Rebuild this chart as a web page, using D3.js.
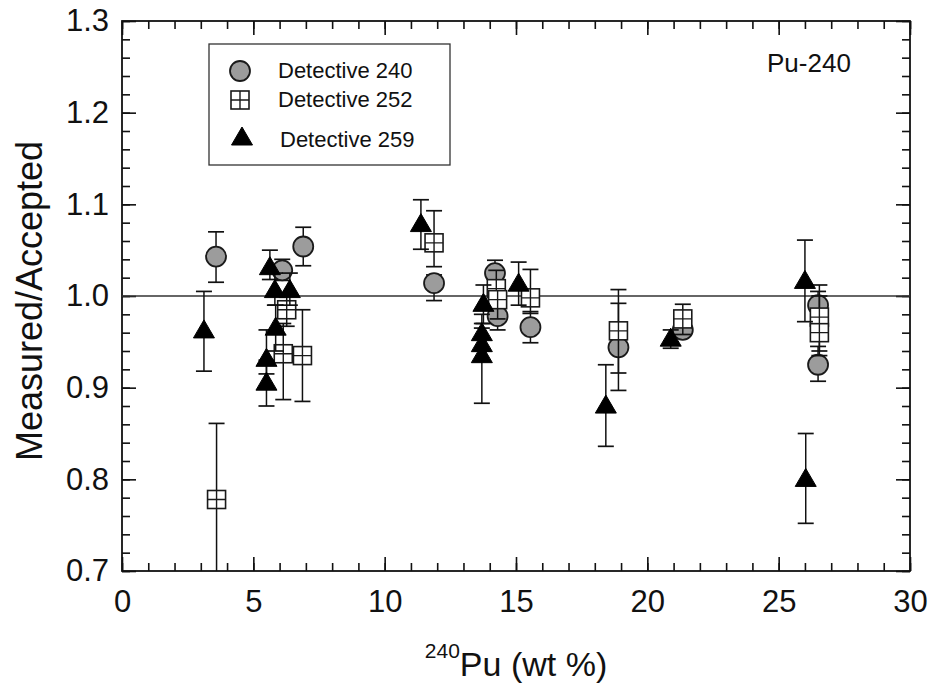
<!DOCTYPE html>
<html>
<head>
<meta charset="utf-8">
<script src="https://cdn.jsdelivr.net/npm/d3@7"></script>
<style>
  body { margin: 0; background: #fff; }
  svg text { font-family: "Liberation Sans", Arial, sans-serif; fill: #111; }
</style>
</head>
<body>
<div id="chart"></div>
<script>
// Detective 240 (grey circles)
const det240X  = [3.58, 6.10, 6.90, 11.88, 14.20, 14.30, 15.55, 18.90, 21.35, 26.50, 26.50];
const det240Y  = [1.043, 1.028, 1.054, 1.014, 1.025, 0.978, 0.966, 0.944, 0.963, 0.990, 0.925];
const det240Lo = [1.015, 1.017, 1.033, 0.995, 1.010, 0.963, 0.949, 0.916, 0.958, 0.975, 0.907];
const det240Hi = [1.070, 1.040, 1.075, 1.023, 1.039, 0.993, 0.983, 0.992, 0.968, 1.005, 0.945];

// Detective 252 (open squares)
const det252X  = [3.60, 6.27, 6.14, 6.87, 11.88, 14.25, 14.30, 15.55, 18.90, 21.35, 26.55, 26.55];
const det252Y  = [0.778, 0.985, 0.937, 0.935, 1.058, 1.008, 0.996, 0.998, 0.962, 0.975, 0.977, 0.960];
const det252Lo = [0.680, 0.967, 0.887, 0.885, 1.032, 0.990, 0.975, 0.981, 0.897, 0.958, 0.940, 0.935];
const det252Hi = [0.861, 1.003, 0.970, 0.985, 1.093, 1.028, 1.015, 1.029, 1.007, 0.991, 1.012, 1.000];

// Detective 259 (black triangles)
const det259X  = [3.12, 5.50, 5.50, 5.63, 5.82, 5.85, 6.39, 11.38, 13.76, 13.70, 13.70, 13.70, 15.10, 18.42, 20.89, 26.00, 26.03];
const det259Y  = [0.963, 0.932, 0.906, 1.032, 1.007, 0.966, 1.007, 1.079, 0.992, 0.960, 0.948, 0.936, 1.014, 0.881, 0.954, 1.017, 0.801];
const det259Lo = [0.918, 0.915, 0.880, 1.018, 0.990, 0.940, 0.990, 1.051, 0.970, 0.940, 0.930, 0.883, 0.990, 0.836, 0.943, 0.972, 0.752];
const det259Hi = [1.005, 0.963, 0.930, 1.050, 1.025, 0.990, 1.025, 1.105, 1.012, 0.980, 0.970, 0.965, 1.037, 0.925, 0.963, 1.061, 0.850];

const legendLabels = ["Detective 240", "Detective 252", "Detective 259"];
const xTicks = [0, 5, 10, 15, 20, 25, 30];
const yTicks = [0.7, 0.8, 0.9, 1.0, 1.1, 1.2, 1.3];

const width = 930, height = 688;
const margin = { left: 122, right: 20, top: 21, bottom: 117 };

const svg = d3.select('#chart')
  .append('svg')
    .attr('width', width)
    .attr('height', height);

const x = d3.scaleLinear().domain([0, 30]).range([margin.left, width - margin.right]);
const y = d3.scaleLinear().domain([0.7, 1.3]).range([height - margin.bottom, margin.top]);

const plotW = x(30) - x(0);
const plotH = y(0.7) - y(1.3);

svg.append('defs').append('clipPath').attr('id', 'plot-clip')
  .append('rect')
    .attr('x', x(0)).attr('y', y(1.3))
    .attr('width', plotW).attr('height', plotH);

// Axes with inward ticks on all four sides
const minorX = d3.range(0, 31, 1);
const minorY = d3.range(0.7, 1.3001, 0.02);

function addAxis(axisFn, scale, tx, ty, ticks, size, labels) {
  const ax = axisFn(scale).tickValues(ticks).tickSize(-size).tickPadding(13);
  ax.tickFormat(labels ? labels : '');
  const g = svg.append('g').attr('transform', `translate(${tx},${ty})`).call(ax);
  g.select('.domain').remove();
  g.selectAll('.tick line').attr('stroke', '#111').attr('stroke-width', 1.6);
  return g;
}

const bottomG = addAxis(d3.axisBottom, x, 0, y(0.7), xTicks, 14, d3.format('d'));
bottomG.selectAll('text')
  .attr('font-size', 31).attr('fill', '#111')
  .attr('y', 41).attr('dy', null);
addAxis(d3.axisBottom, x, 0, y(0.7), minorX, 8);
addAxis(d3.axisTop, x, 0, y(1.3), xTicks, 14);
addAxis(d3.axisTop, x, 0, y(1.3), minorX, 8);

const leftG = addAxis(d3.axisLeft, y, x(0), 0, yTicks, 14, d3.format('.1f'));
leftG.selectAll('text').attr('font-size', 31).attr('fill', '#111');
addAxis(d3.axisLeft, y, x(0), 0, minorY, 8);
addAxis(d3.axisRight, y, x(30), 0, yTicks, 14);
addAxis(d3.axisRight, y, x(30), 0, minorY, 8);

// frame
svg.append('rect')
  .attr('x', x(0)).attr('y', y(1.3))
  .attr('width', plotW).attr('height', plotH)
  .attr('fill', 'none').attr('stroke', '#111').attr('stroke-width', 1.8);

// reference line at 1.0
svg.append('line')
  .attr('x1', x(0)).attr('x2', x(30))
  .attr('y1', y(1.0)).attr('y2', y(1.0))
  .attr('stroke', '#333').attr('stroke-width', 1.3);

const plot = svg.append('g').attr('clip-path', 'url(#plot-clip)');

function toRows(xs, ys, lo, hi) {
  return xs.map((d, i) => ({ x: d, y: ys[i], lo: lo[i], hi: hi[i] }));
}

function drawErrors(rows, cls) {
  const cap = 8;
  const g = plot.append('g').attr('class', cls);
  g.selectAll('line.stem').data(rows).join('line')
    .attr('class', 'stem')
    .attr('x1', d => x(d.x)).attr('x2', d => x(d.x))
    .attr('y1', d => y(d.lo)).attr('y2', d => y(d.hi))
    .attr('stroke', '#111').attr('stroke-width', 1.5);
  ['lo', 'hi'].forEach(k => {
    g.selectAll('line.cap-' + k).data(rows).join('line')
      .attr('class', 'cap-' + k)
      .attr('x1', d => x(d.x) - cap).attr('x2', d => x(d.x) + cap)
      .attr('y1', d => y(d[k])).attr('y2', d => y(d[k]))
      .attr('stroke', '#111').attr('stroke-width', 1.7);
  });
}

// marker shapes
function circleMarker(g) {
  g.append('circle').attr('r', 10)
    .attr('fill', '#9c9c9c').attr('stroke', '#1a1a1a').attr('stroke-width', 1.8);
}
function squareMarker(g) {
  g.append('rect').attr('x', -9).attr('y', -9).attr('width', 18).attr('height', 18)
    .attr('fill', '#fff').attr('stroke', '#1a1a1a').attr('stroke-width', 1.6);
  g.append('path').attr('d', 'M-9,0H9M0,-9V9')
    .attr('stroke', '#1a1a1a').attr('stroke-width', 1.4);
}
function triangleMarker(g) {
  g.append('path').attr('d', 'M0,-10L10.5,8L-10.5,8Z')
    .attr('fill', '#000').attr('stroke', '#000').attr('stroke-width', 1);
}

const series = [
  { rows: toRows(det240X, det240Y, det240Lo, det240Hi), marker: circleMarker },
  { rows: toRows(det252X, det252Y, det252Lo, det252Hi), marker: squareMarker },
  { rows: toRows(det259X, det259Y, det259Lo, det259Hi), marker: triangleMarker }
];

series.forEach((s, si) => {
  drawErrors(s.rows, 'err-' + si);
  plot.append('g').selectAll('g').data(s.rows).join('g')
    .attr('transform', d => `translate(${x(d.x)},${y(d.y)})`)
    .each(function () { s.marker(d3.select(this)); });
});

// legend
const legend = svg.append('g');
legend.append('rect')
  .attr('x', 209).attr('y', 44).attr('width', 241).attr('height', 121)
  .attr('fill', '#fff').attr('stroke', '#333').attr('stroke-width', 1.3);
const legendRows = [
  { mx: 240, my: 71, ty: 78, tx: 278 },
  { mx: 240, my: 100, ty: 107, tx: 278 },
  { mx: 242, my: 137, ty: 147, tx: 280 }
];
legendRows.forEach((r, i) => {
  const g = legend.append('g').attr('transform', `translate(${r.mx},${r.my})`);
  series[i].marker(g);
  legend.append('text')
    .attr('x', r.tx).attr('y', r.ty)
    .attr('font-size', 22)
    .text(legendLabels[i]);
});

// panel label
svg.append('text')
  .attr('x', 767).attr('y', 72)
  .attr('font-size', 26)
  .text('Pu-240');

// axis titles
const xTitle = svg.append('text')
  .attr('x', (x(0) + x(30)) / 2).attr('y', 676)
  .attr('text-anchor', 'middle')
  .attr('font-size', 34);
xTitle.append('tspan').attr('font-size', 21).attr('dy', -18).text('240');
xTitle.append('tspan').attr('dy', 18).text('Pu (wt %)');

svg.append('text')
  .attr('transform', `translate(42,301) rotate(-90)`)
  .attr('text-anchor', 'middle')
  .attr('font-size', 36)
  .text('Measured/Accepted');
</script>
</body>
</html>
